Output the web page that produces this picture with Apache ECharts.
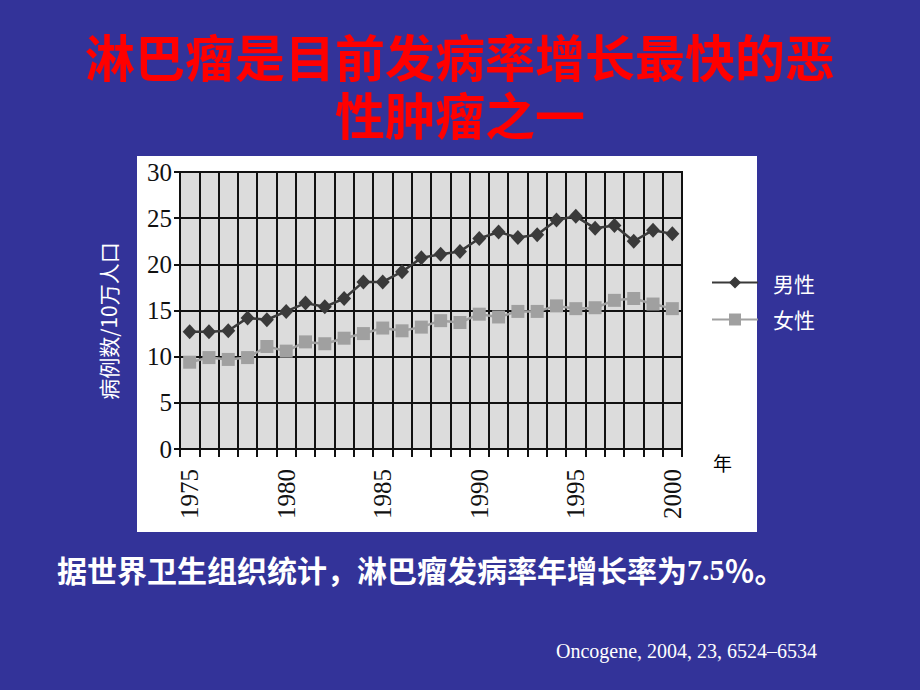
<!DOCTYPE html>
<html>
<head>
<meta charset="utf-8">
<script src="https://cdn.jsdelivr.net/npm/echarts@6/dist/echarts.min.js"></script>
<style>
html,body{margin:0;padding:0;background:#333399;}
#chart{width:920px;height:690px;}
</style>
</head>
<body>
<div id="chart"></div>
<script>
const years = ['1975','1976','1977','1978','1979','1980','1981','1982','1983','1984','1985','1986','1987','1988','1989','1990','1991','1992','1993','1994','1995','1996','1997','1998','1999','2000'];
const male = [12.7,12.7,12.8,14.2,14.0,14.9,15.8,15.4,16.3,18.1,18.1,19.2,20.7,21.1,21.4,22.8,23.5,22.9,23.2,24.8,25.2,23.9,24.2,22.5,23.7,23.3];
const female = [9.4,9.9,9.7,9.9,11.1,10.6,11.6,11.4,12.0,12.5,13.1,12.8,13.2,13.9,13.7,14.6,14.3,14.9,14.9,15.5,15.2,15.3,16.1,16.3,15.7,15.2];
const yTicks = {min: 0, max: 30, step: 5};
const seriesNames = ['男性', '女性'];
const titleLine1 = '淋巴瘤是目前发病率增长最快的恶';
const titleLine2 = '性肿瘤之一';
const yName = '病例数/10万人口';
const xName = '年';
const notePre = '据世界卫生组织统计，淋巴瘤发病率年增长率为';
const noteNum = '7.5';
const notePost = '％。';
const sourceText = 'Oncogene, 2004, 23, 6524–6534';

const chart = echarts.init(document.getElementById('chart'), null, {renderer: 'svg'});
const serif = '"Liberation Serif", "DejaVu Serif", serif';
const cjk = '"Noto Sans CJK SC", sans-serif';
const titleStyle = {fill: '#ff0000', fontSize: 50, lineHeight: 52, fontWeight: 'bold', fontFamily: cjk, align: 'center', verticalAlign: 'middle'};
chart.setOption({
  backgroundColor: '#333399',
  animation: false,
  graphic: [
    {type: 'rect', z: -100, shape: {x: 137, y: 156, width: 620, height: 376}, style: {fill: '#ffffff'}},
    {type: 'text', x: 460, y: 55, style: Object.assign({text: titleLine1}, titleStyle)},
    {type: 'text', x: 460, y: 113, style: Object.assign({text: titleLine2}, titleStyle)},
    {type: 'text', x: 108, y: 321, rotation: Math.PI / 2, style: {
      text: yName, fill: '#ffffff', fontSize: 21, fontFamily: cjk, align: 'center', verticalAlign: 'middle'
    }},
    {type: 'text', x: 713, y: 453, style: {text: xName, fill: '#000000', fontSize: 19, fontFamily: cjk}},
    {type: 'text', x: 57, y: 569, style: {
      text: '{a|' + notePre + '}{b|' + noteNum + '}{a|' + notePost + '}',
      verticalAlign: 'middle',
      rich: {
        a: {fill: '#ffffff', fontSize: 30, fontWeight: 'bold', fontFamily: cjk},
        b: {fill: '#ffffff', fontSize: 30, fontWeight: 'bold', fontFamily: serif}
      }
    }},
    {type: 'text', x: 556, y: 651, style: {text: sourceText, fill: '#ffffff', fontSize: 20, fontFamily: serif, verticalAlign: 'middle'}}
  ],
  legend: {
    orient: 'vertical',
    left: 706,
    top: 267,
    itemWidth: 46,
    itemHeight: 15,
    itemGap: 16,
    textStyle: {color: '#ffffff', fontSize: 21, fontFamily: cjk, padding: [0, 0, 0, 10]},
    data: seriesNames
  },
  grid: {
    left: 180, top: 172, width: 502, height: 277,
    show: true, backgroundColor: '#dcdcdc', borderColor: '#111', borderWidth: 2
  },
  xAxis: {
    type: 'category',
    data: years,
    boundaryGap: true,
    axisLine: {lineStyle: {color: '#111', width: 2}},
    axisTick: {show: true, interval: 0, length: 8, lineStyle: {color: '#111', width: 2}},
    splitLine: {show: true, interval: 0, lineStyle: {color: '#111', width: 2}},
    axisLabel: {
      rotate: 90, margin: 20, color: '#111', fontSize: 25, fontFamily: serif,
      interval: function (i) { return i % 5 === 0; }
    }
  },
  yAxis: {
    type: 'value',
    min: yTicks.min, max: yTicks.max, interval: yTicks.step,
    axisLine: {show: true, lineStyle: {color: '#111', width: 2}},
    axisTick: {show: true, length: 6, lineStyle: {color: '#111', width: 2}},
    splitLine: {show: true, lineStyle: {color: '#111', width: 2}},
    axisLabel: {margin: 8, color: '#111', fontSize: 25, fontFamily: serif}
  },
  series: [
    {
      name: seriesNames[0], type: 'line', data: male, showAllSymbol: true,
      symbol: 'diamond', symbolSize: [14, 15],
      lineStyle: {color: '#3a3a3a', width: 2.5},
      itemStyle: {color: '#3a3a3a'}
    },
    {
      name: seriesNames[1], type: 'line', data: female, showAllSymbol: true,
      symbol: 'rect', symbolSize: 13,
      lineStyle: {color: '#a0a0a0', width: 2.5},
      itemStyle: {color: '#a0a0a0'}
    }
  ]
});
</script>
</body>
</html>
